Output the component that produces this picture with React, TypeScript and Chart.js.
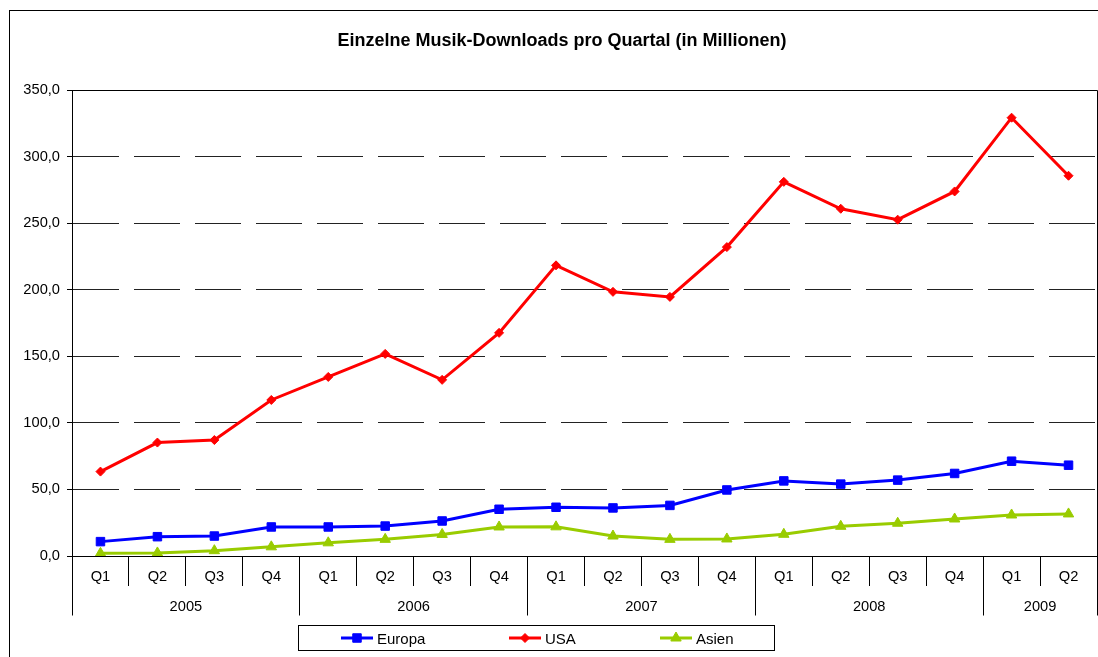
import React, { useEffect, useRef } from 'react';
import { Chart, registerables } from 'chart.js';
import { drawPoint } from 'chart.js/helpers';

Chart.register(...registerables);

const quarters = ['Q1', 'Q2', 'Q3', 'Q4', 'Q1', 'Q2', 'Q3', 'Q4', 'Q1', 'Q2', 'Q3', 'Q4', 'Q1', 'Q2', 'Q3', 'Q4', 'Q1', 'Q2'];
const years = ['2005', '2006', '2007', '2008', '2009'];
const yearSpans = [4, 4, 4, 4, 2];

const europa = [10.8, 14.5, 15.0, 21.8, 21.8, 22.5, 26.3, 35.1, 36.6, 36.1, 38.0, 49.6, 56.4, 54.0, 57.0, 62.0, 71.2, 68.2];
const usa = [63.4, 85.2, 87.1, 117.2, 134.5, 151.8, 132.3, 167.6, 218.3, 198.4, 194.6, 232.0, 281.0, 260.8, 252.6, 273.8, 329.2, 285.6];
const asien = [2.0, 2.3, 4.0, 6.9, 9.9, 12.5, 16.2, 21.8, 21.9, 15.0, 12.5, 12.8, 16.3, 22.3, 24.6, 27.8, 30.8, 31.6];

const yMin = 0;
const yMax = 350;
const yStep = 50;

const FONT = '"Liberation Sans", Arial, Helvetica, sans-serif';
const W = 1098;
const H = 657;

// year group boundaries and centres (in category index units)
const yearBounds: number[] = [];
const yearCenters: number[] = [];
{
  let start = -0.5;
  yearBounds.push(start);
  yearSpans.forEach((s) => {
    yearCenters.push(start + s / 2);
    start += s;
    yearBounds.push(start);
  });
}

const align = (p: number) => Math.round(p - 0.5) + 0.5;

const decorPlugin = {
  id: 'decor',
  afterLayout(chart: any) {
    // let the y tick labels use the room left of the axis box (no clipping)
    const y = chart.scales.y;
    if (y) y.left = 0;
  },
  beforeDraw(chart: any) {
    const ctx = chart.ctx;
    ctx.save();
    ctx.fillStyle = '#ffffff';
    ctx.fillRect(0, 0, chart.width, chart.height);
    ctx.strokeStyle = '#000000';
    ctx.lineWidth = 1;
    ctx.strokeRect(9.5, 10.5, chart.width + 50, chart.height + 50);
    ctx.restore();
  },
  afterDraw(chart: any) {
    const ctx = chart.ctx;
    const a = chart.chartArea;
    ctx.save();
    ctx.setLineDash([]);
    ctx.strokeStyle = '#000000';
    ctx.lineWidth = 1;
    // plot area frame
    const l = align(a.left);
    const r = align(a.right);
    const t = align(a.top);
    const b = align(a.bottom);
    ctx.beginPath();
    ctx.moveTo(l, t);
    ctx.lineTo(r, t);
    ctx.lineTo(r, b);
    ctx.moveTo(l, t);
    ctx.lineTo(l, b);
    ctx.stroke();

    // year separators
    const x2 = chart.scales.x2;
    ctx.beginPath();
    yearBounds.forEach((v) => {
      const px = align(x2.getPixelForValue(v));
      ctx.moveTo(px, b);
      ctx.lineTo(px, b + 59);
    });
    ctx.stroke();

    // legend
    const boxX = 298.5, boxY = 625.5, boxW = 476, boxH = 25;
    ctx.strokeRect(boxX, boxY, boxW, boxH);
    const itemX = [341, 509, 660];
    const cy = boxY + boxH / 2;
    ctx.font = `15px ${FONT}`;
    ctx.textBaseline = 'middle';
    ctx.textAlign = 'left';
    chart.data.datasets.forEach((ds: any, i: number) => {
      const x0 = itemX[i];
      ctx.strokeStyle = ds.borderColor;
      ctx.lineWidth = 3;
      ctx.beginPath();
      ctx.moveTo(x0, cy);
      ctx.lineTo(x0 + 32, cy);
      ctx.stroke();
      ctx.fillStyle = ds.borderColor;
      ctx.strokeStyle = ds.borderColor;
      ctx.lineWidth = 1;
      drawPoint(ctx, { pointStyle: ds.pointStyle, rotation: 0, radius: ds.pointRadius, borderWidth: 1 }, x0 + 16, cy);
      ctx.fillStyle = '#000000';
      ctx.fillText(ds.label, x0 + 36, cy + 1.5);
    });
    ctx.restore();
  },
};

export default function App() {
  const ref = useRef<HTMLCanvasElement | null>(null);

  useEffect(() => {
    document.body.style.margin = '0';
    const canvas = ref.current;
    if (!canvas) return;
    const chart = new Chart(canvas, {
      type: 'line',
      data: {
        labels: quarters,
        datasets: [
          {
            label: 'Europa',
            data: europa,
            borderColor: '#0000FF',
            backgroundColor: '#0000FF',
            borderWidth: 3,
            pointStyle: 'rect',
            pointRadius: 6,
            pointBorderWidth: 1,
            pointBackgroundColor: '#0000FF',
            pointBorderColor: '#0000FF',
            tension: 0,
          },
          {
            label: 'USA',
            data: usa,
            borderColor: '#FF0000',
            backgroundColor: '#FF0000',
            borderWidth: 3,
            pointStyle: 'rectRot',
            pointRadius: 4.5,
            pointBorderWidth: 1,
            pointBackgroundColor: '#FF0000',
            pointBorderColor: '#FF0000',
            tension: 0,
          },
          {
            label: 'Asien',
            data: asien,
            borderColor: '#99CC00',
            backgroundColor: '#99CC00',
            borderWidth: 3,
            pointStyle: 'triangle',
            pointRadius: 6,
            pointBorderWidth: 1,
            pointBackgroundColor: '#99CC00',
            pointBorderColor: '#99CC00',
            tension: 0,
          },
        ],
      },
      options: {
        responsive: false,
        animation: false,
        layout: { autoPadding: false, padding: { top: 0, left: 27, right: 1, bottom: 41 } },
        plugins: {
          legend: { display: false },
          tooltip: { enabled: false },
          title: {
            display: true,
            text: 'Einzelne Musik-Downloads pro Quartal (in Millionen)',
            color: '#000000',
            font: { family: FONT, size: 18, weight: 'bold' },
            padding: { top: 30, bottom: 38.4 },
          },
        },
        scales: {
          y: {
            min: yMin,
            max: yMax,
            afterFit: (s: any) => { s.width = 45; },
            ticks: {
              stepSize: yStep,
              color: '#000000',
              padding: 7,
              font: { family: FONT, size: 14.67 },
              callback: (v: any) => Number(v).toFixed(1).replace('.', ','),
            },
            grid: {
              color: '#222222',
              lineWidth: 1,
              tickLength: 5,
              tickColor: '#000000',
              tickBorderDash: [],
            },
            border: { display: true, color: '#000000', width: 1, dash: [46, 15] },
          },
          x: {
            type: 'category',
            position: 'bottom',
            weight: 0,
            offset: true,
            afterFit: (s: any) => { s.height = 30; },
            ticks: {
              color: '#000000',
              autoSkip: false,
              maxRotation: 0,
              padding: -17.5,
              font: { family: FONT, size: 14.67 },
            },
            grid: {
              offset: true,
              drawOnChartArea: false,
              drawTicks: true,
              tickLength: 30,
              color: '#000000',
            },
            border: { display: true, color: '#000000', width: 1 },
          },
          x2: {
            type: 'linear',
            position: 'bottom',
            weight: 1,
            min: -0.5,
            max: quarters.length - 0.5,
            afterFit: (s: any) => { s.height = 30; },
            afterBuildTicks: (s: any) => {
              s.ticks = yearCenters.map((v) => ({ value: v }));
            },
            ticks: {
              color: '#000000',
              autoSkip: false,
              maxRotation: 0,
              padding: 12,
              font: { family: FONT, size: 14.67 },
              callback: (_v: any, i: number) => years[i],
            },
            grid: { display: false, drawTicks: false },
            border: { display: false },
          },
        },
      },
      plugins: [decorPlugin],
    } as any);
    return () => chart.destroy();
  }, []);

  return (
    <div style={{ width: W, height: H }}>
      <canvas ref={ref} width={W} height={H} style={{ display: 'block' }} />
    </div>
  );
}
